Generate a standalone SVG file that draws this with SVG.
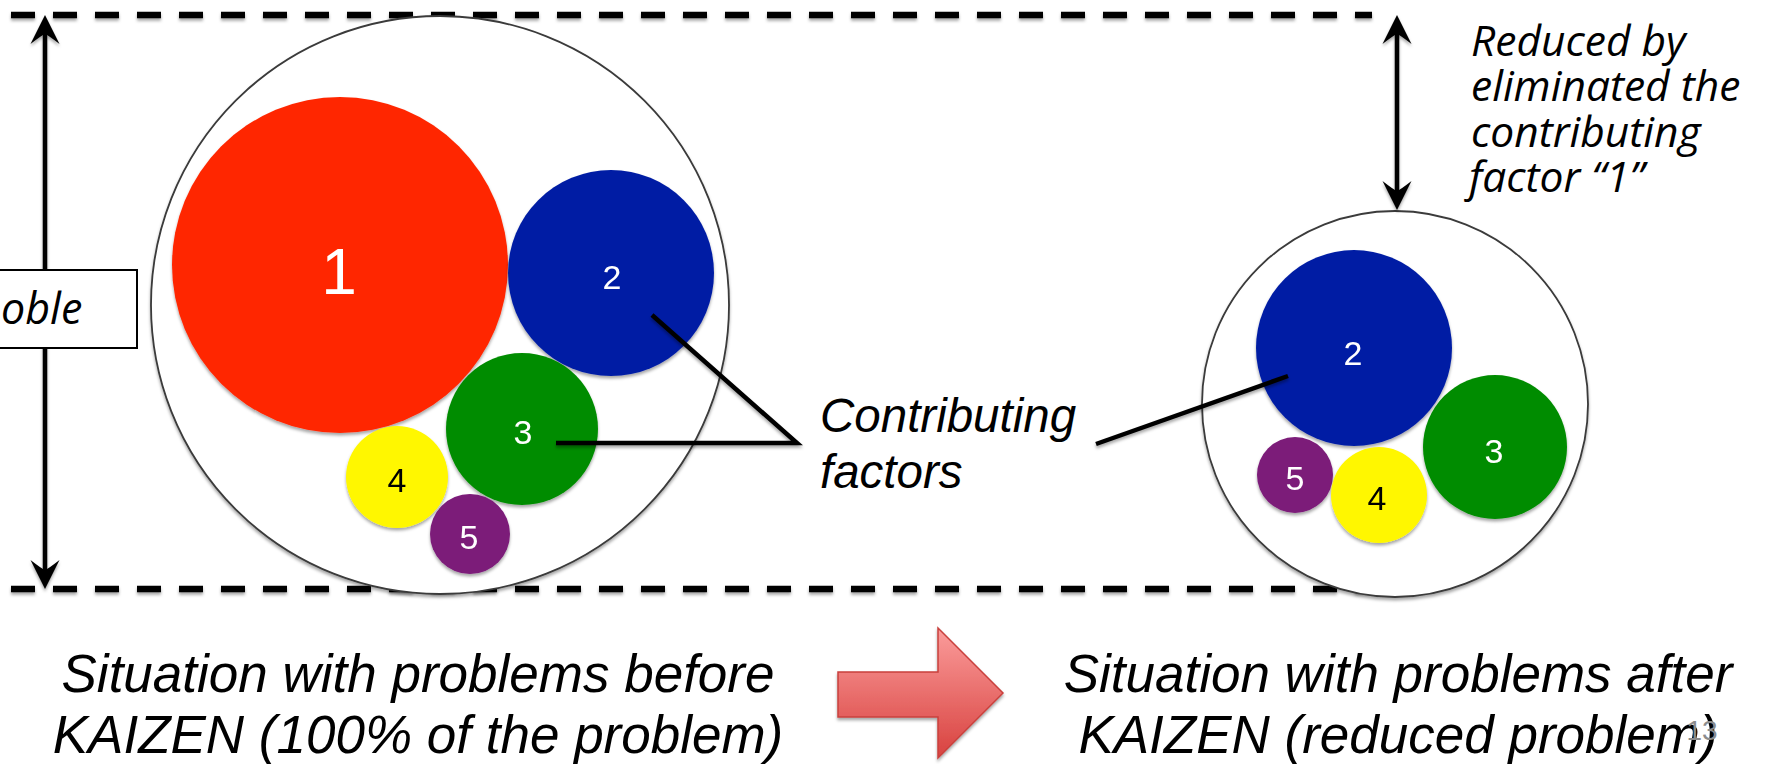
<svg xmlns="http://www.w3.org/2000/svg" width="1770" height="764" viewBox="0 0 1770 764">
  <defs>
    <style>
      .dash { fill: none; stroke: #000; stroke-width: 6.5; stroke-dasharray: 24 18; }
      .rim { fill: #fff; stroke: #3a3a3a; stroke-width: 1.8; }
      .lead { fill: none; stroke: #000; stroke-width: 4.5; }
      .dim { fill: none; stroke: #000; stroke-width: 4.5; }
      .num { font-family: "Liberation Sans", Arial, sans-serif; font-size: 34px; text-anchor: middle; fill: #fff; }
      .note { font-family: "Open Sans", "Liberation Sans", sans-serif; font-style: italic; font-size: 42.5px; fill: #000; }
      .cap { font-family: "Liberation Sans", Arial, sans-serif; font-style: italic; font-size: 53px; fill: #000; text-anchor: middle; }
      .lbl { font-family: "Liberation Sans", Arial, sans-serif; font-style: italic; font-size: 47.5px; fill: #000; }
    </style>
    <filter id="shade" x="-10%" y="-10%" width="120%" height="130%">
      <feDropShadow dx="0" dy="2.5" stdDeviation="1.6" flood-color="#000" flood-opacity="0.35"/>
    </filter>
    <linearGradient id="redGrad" x1="0" y1="0" x2="0" y2="1">
      <stop offset="0" stop-color="#fb9c9b"/>
      <stop offset="1" stop-color="#d8423f"/>
    </linearGradient>
    <marker id="head" viewBox="-22 -16 32 32" refX="0" refY="0" markerWidth="32" markerHeight="32" markerUnits="userSpaceOnUse" orient="auto-start-reverse" overflow="visible">
      <path d="M8,0 L-21,-14.5 Q-12,-3 -11,0 Q-12,3 -21,14.5 Z" fill="#000"/>
    </marker>
  </defs>

  <!-- guide lines marking the problem size -->
  <g id="guides" filter="url(#shade)">
    <line class="dash" x1="11" y1="15" x2="1372" y2="15"/>
    <line class="dash" x1="11" y1="589" x2="1372" y2="589"/>
  </g>

  <!-- before: whole problem -->
  <g id="before" filter="url(#shade)">
    <circle class="rim" cx="440" cy="305" r="289"/>
  </g>
  <g id="b1" filter="url(#shade)">
    <circle cx="340" cy="265" r="168" fill="#ff2700"/>
    <text class="num" x="339" y="294" style="font-size:64px">1</text>
  </g>
  <g id="b2" filter="url(#shade)">
    <circle cx="611" cy="273" r="103" fill="#021ea4"/>
    <text class="num" x="612" y="289">2</text>
  </g>
  <g id="b3" filter="url(#shade)">
    <circle cx="522" cy="429" r="76" fill="#038c03"/>
    <text class="num" x="523" y="444">3</text>
  </g>
  <g id="b4" filter="url(#shade)">
    <circle cx="397" cy="477" r="51" fill="#fff700"/>
    <text class="num" x="397" y="492" style="fill:#000">4</text>
  </g>
  <g id="b5" filter="url(#shade)">
    <circle cx="470" cy="534" r="40" fill="#7c1b79"/>
    <text class="num" x="469" y="549">5</text>
  </g>

  <!-- after: reduced problem -->
  <g id="after" filter="url(#shade)">
    <circle class="rim" cx="1395" cy="404" r="193"/>
  </g>
  <g id="a2" filter="url(#shade)">
    <circle cx="1354" cy="348" r="98" fill="#021ea4"/>
    <text class="num" x="1353" y="365">2</text>
  </g>
  <g id="a3" filter="url(#shade)">
    <circle cx="1495" cy="447" r="72" fill="#038c03"/>
    <text class="num" x="1494" y="463">3</text>
  </g>
  <g id="a5" filter="url(#shade)">
    <circle cx="1295" cy="475" r="38" fill="#7c1b79"/>
    <text class="num" x="1295" y="490">5</text>
  </g>
  <g id="a4" filter="url(#shade)">
    <circle cx="1379" cy="495" r="48" fill="#fff700"/>
    <text class="num" x="1377" y="510" style="fill:#000">4</text>
  </g>

  <!-- leaders and dimension arrows -->
  <g id="connectors" filter="url(#shade)">
    <polyline class="lead" points="652,315 797,443 556,443"/>
    <line class="lead" x1="1096" y1="444" x2="1288" y2="376"/>
    <line class="dim" x1="45" y1="23" x2="45" y2="581" marker-start="url(#head)" marker-end="url(#head)"/>
    <line class="dim" x1="1397" y1="23" x2="1397" y2="202" marker-start="url(#head)" marker-end="url(#head)"/>
  </g>

  <!-- size label box, cut by the left edge -->
  <g id="sizeBox">
    <rect x="-6" y="270" width="143" height="78" fill="#fff" stroke="#000" stroke-width="2"/>
    <text class="note" x="1" y="324" style="font-size:43px">oble</text>
  </g>

  <g id="contributing">
    <text class="lbl" x="820" y="432">Contributing</text>
    <text class="lbl" x="820" y="488">factors</text>
  </g>

  <g id="reducedNote">
    <text class="note" x="1471" y="56">Reduced by</text>
    <text class="note" x="1471" y="101">eliminated the</text>
    <text class="note" x="1471" y="147">contributing</text>
    <text class="note" x="1469" y="192">factor “1”</text>
  </g>

  <!-- transition arrow -->
  <g id="kaizenArrow" filter="url(#shade)">
    <path d="M838,672 L938,672 L938,628 L1003,693 L938,758 L938,717 L838,717 Z" fill="url(#redGrad)" stroke="#c9403d" stroke-width="1.5"/>
  </g>

  <g id="captionBefore">
    <text class="cap" x="418" y="692">Situation with problems before</text>
    <text class="cap" x="418" y="753">KAIZEN (100% of the problem)</text>
  </g>
  <g id="captionAfter">
    <text class="cap" x="1398" y="692">Situation with problems after</text>
    <text class="cap" x="1398" y="753">KAIZEN (reduced problem)</text>
  </g>

  <text id="pageNo" x="1702" y="740" text-anchor="middle" font-family="Liberation Sans, Arial, sans-serif" font-size="28" fill="#8c8c8c">13</text>
</svg>
